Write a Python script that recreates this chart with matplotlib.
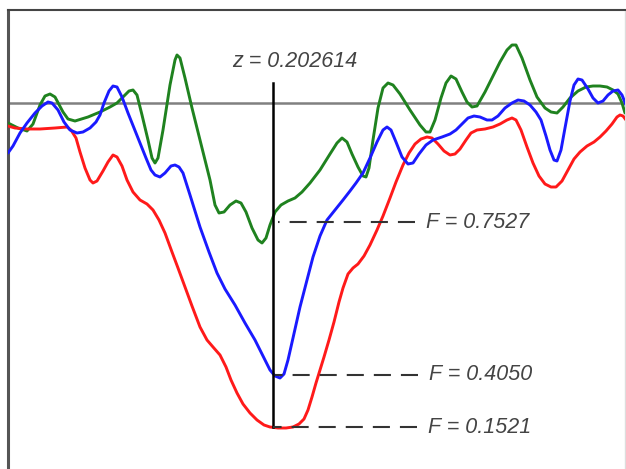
import matplotlib.pyplot as plt

# positions (x across the spectrum, y = depth, grows downward)
green_x = [8, 18, 27, 33, 40, 45, 50, 55, 63, 68, 75, 88, 100, 110, 117, 124, 129, 133, 137, 142,
           148, 152, 155, 158, 163, 170, 175, 177, 180, 185, 192, 200, 210, 215, 219, 224, 230, 236,
           241, 246, 252, 258, 262, 266, 270, 275, 281, 288, 295, 302, 310, 320, 330, 337, 342, 347,
           352, 358, 363, 366, 369, 373, 378, 383, 388, 393, 400, 410, 420, 426, 430, 435, 441, 446,
           451, 456, 462, 467, 472, 477, 485, 493, 500, 507, 512, 516, 522, 530, 537, 545, 551, 557,
           563, 570, 578, 586, 593, 600, 607, 613, 618, 622, 625]
green_y = [123, 128, 131, 124, 105, 96, 94, 97, 112, 119, 121, 117, 112, 107, 103, 96, 91, 90, 95, 115,
           140, 158, 163, 158, 130, 85, 60, 55, 58, 78, 108, 140, 180, 205, 213, 212, 205, 201,
           203, 212, 228, 240, 243, 238, 225, 212, 205, 201, 198, 192, 183, 170, 154, 143, 138, 142,
           154, 167, 176, 177, 168, 140, 108, 88, 83, 85, 94, 110, 125, 132, 132, 120, 98, 83,
           76, 79, 92, 102, 107, 106, 92, 76, 62, 50, 45, 45, 58, 80, 97, 108, 112, 113,
           107, 98, 91, 87, 86, 86, 87, 90, 94, 103, 113]

blue_x = [8, 13, 20, 27, 35, 42, 48, 52, 58, 64, 70, 77, 83, 90, 96, 100, 104, 109, 113, 117, 122,
          128, 134, 140, 146, 151, 155, 160, 165, 171, 175, 179, 183, 190, 200, 209, 217, 225, 235,
          245, 255, 263, 270, 275, 280, 284, 288, 293, 300, 307, 313, 320, 327, 335, 343, 350, 356,
          363, 370, 377, 383, 387, 391, 396, 402, 408, 413, 419, 426, 433, 442, 450, 456, 462, 468,
          474, 480, 487, 492, 498, 505, 512, 518, 524, 530, 536, 541, 546, 550, 554, 557, 561, 565,
          570, 574, 578, 582, 588, 593, 598, 603, 608, 613, 618, 622, 626]
blue_y = [153, 146, 133, 123, 113, 106, 102, 103, 110, 122, 130, 133, 132, 128, 122, 115, 103, 91, 86, 87, 97,
          113, 128, 143, 158, 170, 175, 177, 173, 166, 165, 167, 173, 195, 227, 252, 273, 289, 305,
          323, 340, 356, 370, 376, 378, 374, 360, 338, 307, 280, 257, 236, 220, 210, 200, 191, 183,
          173, 158, 142, 130, 127, 130, 142, 157, 164, 163, 154, 145, 140, 137, 134, 130, 124, 118,
          116, 117, 120, 120, 116, 108, 103, 100, 101, 105, 112, 120, 136, 150, 160, 161, 150, 128,
          101, 85, 79, 80, 89, 98, 103, 101, 95, 91, 90, 95, 105]

red_x = [8, 15, 27, 40, 55, 67, 71, 76, 80, 85, 90, 93, 97, 103, 108, 113, 117, 122, 127, 133, 140,
         147, 153, 159, 165, 172, 178, 185, 192, 200, 207, 213, 220, 226, 231, 237, 243, 250, 257,
         264, 270, 278, 286, 293, 299, 304, 308, 312, 316, 320, 324, 329, 334, 339, 343, 348, 353,
         358, 364, 370, 377, 383, 390, 396, 403, 409, 415, 421, 427, 432, 438, 444, 450, 455, 460,
         466, 471, 477, 485, 493, 500, 507, 512, 516, 521, 527, 533, 539, 545, 551, 556, 562, 568,
         574, 580, 587, 594, 600, 606, 612, 617, 620, 623, 626]
red_y = [126, 128, 129, 129, 128, 127, 130, 138, 152, 168, 180, 183, 181, 171, 162, 155, 157, 166, 180, 192, 200,
         204, 210, 220, 233, 252, 268, 287, 306, 327, 340, 347, 355, 367, 380, 393, 404, 413, 420,
         425, 427, 428, 428, 427, 424, 419, 410, 397, 383, 370, 357, 340, 322, 302, 288, 274, 268,
         264, 256, 245, 230, 216, 198, 182, 165, 153, 144, 139, 137, 138, 144, 151, 155, 154, 149,
         140, 133, 130, 129, 127, 124, 120, 118, 120, 130, 147, 163, 176, 184, 187, 187, 181, 170,
         159, 152, 146, 142, 137, 131, 124, 117, 115, 116, 120]

continuum = 103
z_line_x = 273
z_line_top = 83
z_label = 'z = 0.202614'

f_labels = ['F = 0.7527', 'F = 0.4050', 'F = 0.1521']
f_levels = [222, 375, 427]
f_starts = [278, 275, 273]
f_ends = [415, 418, 417]

fig = plt.figure(figsize=(6.26, 4.69), dpi=100)
ax = fig.add_axes([8 / 626, 0, 617 / 626, 1 - 10 / 469])
ax.set_xlim(8, 625)
ax.set_ylim(469, 10)
ax.set_xticks([])
ax.set_yticks([])
ax.spines['bottom'].set_visible(False)
ax.spines['left'].set_color('#555555')
ax.spines['left'].set_linewidth(2.2)
ax.spines['top'].set_color('#444444')
ax.spines['top'].set_linewidth(1.5)
ax.spines['right'].set_color('#dddddd')
ax.spines['right'].set_linewidth(1)

ax.axhline(continuum, color='#808080', lw=1.8, zorder=1)

style = dict(lw=2.1, solid_joinstyle='round', solid_capstyle='round')
ax.plot(green_x, green_y, color='#1f821f', zorder=3, **style)
ax.plot(red_x, red_y, color='#ff1a1a', zorder=3, **style)
ax.plot(blue_x, blue_y, color='#1a1aff', zorder=4, **style)

ax.plot([z_line_x, z_line_x], [z_line_top, f_levels[-1]], color='black', lw=1.8, zorder=5)
ax.text(z_line_x + 22, 62, z_label, ha='center', va='center', style='italic',
        family='Liberation Sans', fontsize=15.5, color='#444444')

for lab, lev, x0, x1 in zip(f_labels, f_levels, f_starts, f_ends):
    # drawn right to left so the dash pattern starts at the label side
    ax.plot([x1, x0], [lev, lev], color='#333333', lw=1.5, dashes=(8.2, 4.8), zorder=5)
    ax.text(x1 + 11, lev, lab, ha='left', va='center', style='italic',
            family='Liberation Sans', fontsize=15.5, color='#444444')

fig.savefig('out.png', dpi=100)
